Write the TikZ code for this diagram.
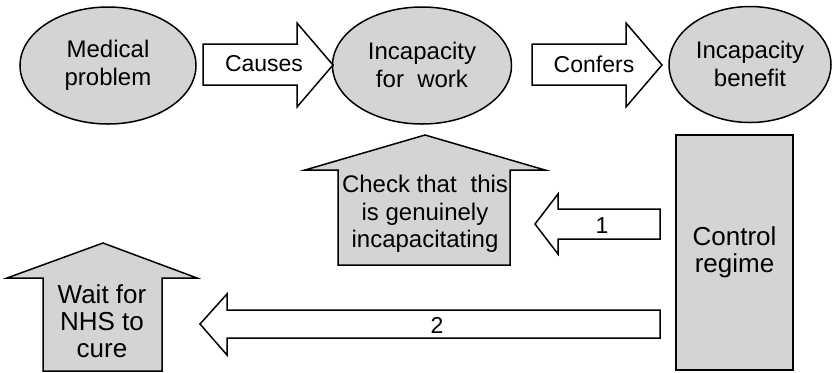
\documentclass[tikz,border=0pt]{standalone}
\usepackage{fontspec}
\setmainfont{Liberation Sans}
\definecolor{boxgray}{RGB}{212,212,212}

\tikzset{
    bubble/.style={draw, fill=boxgray},
    blockarrow/.style={draw, fill=white, line join=miter},
    uparrow/.style={draw, fill=boxgray, line join=miter},
    txt/.style={align=center, inner sep=0pt},
    bigtxt/.style={txt, font=\fontsize{13}{13.5}\selectfont},
    arrowtxt/.style={txt, font=\fontsize{11.5}{13.5}\selectfont}
}

\begin{document}
\begin{tikzpicture}[x=0.5pt, y=-0.5pt, line width=0.75pt,
    font=\fontsize{12}{14.2}\selectfont]

    % Fix the page size
    \useasboundingbox (0,0) rectangle (832,372);

    % Top row: ellipses
    \draw[bubble] (108,65.5) ellipse [x radius=44pt, y radius=29.25pt];
    \node[txt] (medical) at (108,65) {Medical\\problem};
    \draw[bubble] (422,65.5) ellipse [x radius=44.75pt, y radius=29.25pt];
    \node[txt] (incapacity) at (422,65) {Incapacity\\for~ work};
    \draw[bubble] (750,64.5) ellipse [x radius=40.5pt, y radius=29pt];
    \node[txt] (benefit) at (750,64) {Incapacity\\benefit};

    % Right-pointing block arrows
    \draw[blockarrow] (203,44) -- (297,44) -- (297,23) -- (333,65) -- (297,107) -- (297,85) -- (203,85) -- cycle;
    \node[arrowtxt] (causes) at (264,64) {Causes};
    \draw[blockarrow] (532,44) -- (626,44) -- (626,23) -- (662,65) -- (626,107) -- (626,85) -- (532,85) -- cycle;
    \node[arrowtxt] (confers) at (594,64) {Confers};

    % Control regime box
    \node[draw, fill=boxgray, minimum width=58.5pt, minimum height=117.5pt] (control) at (734.5,252.5) {};
    \node[bigtxt] (regime) at (control) {Control\\regime};

    % Left-pointing block arrows
    \draw[blockarrow] (660,209) -- (558,209) -- (558,194) -- (535,224) -- (558,254) -- (558,239) -- (660,239) -- cycle;
    \node[arrowtxt] (one) at (602,226) {1};
    \draw[blockarrow] (660,310) -- (227,310) -- (227,294) -- (200,324) -- (227,355) -- (227,338) -- (660,338) -- cycle;
    \node[arrowtxt] (two) at (437,325) {2};

    % Upward block arrows
    \draw[uparrow] (425,135) -- (545,170) -- (510,170) -- (510,265) -- (338,265) -- (338,170) -- (305,170) -- cycle;
    \node[txt, font=\fontsize{12}{13.8}\selectfont] (check) at (425,214) {Check that\hspace{0.3em} this\\is genuinely\\incapacitating};
    \draw[uparrow] (103,243) -- (197,278) -- (162,278) -- (162,371) -- (43,371) -- (43,278) -- (7,278) -- cycle;
    \node[bigtxt] (wait) at (102,321) {Wait for\\NHS to\\cure};

\end{tikzpicture}
\end{document}
